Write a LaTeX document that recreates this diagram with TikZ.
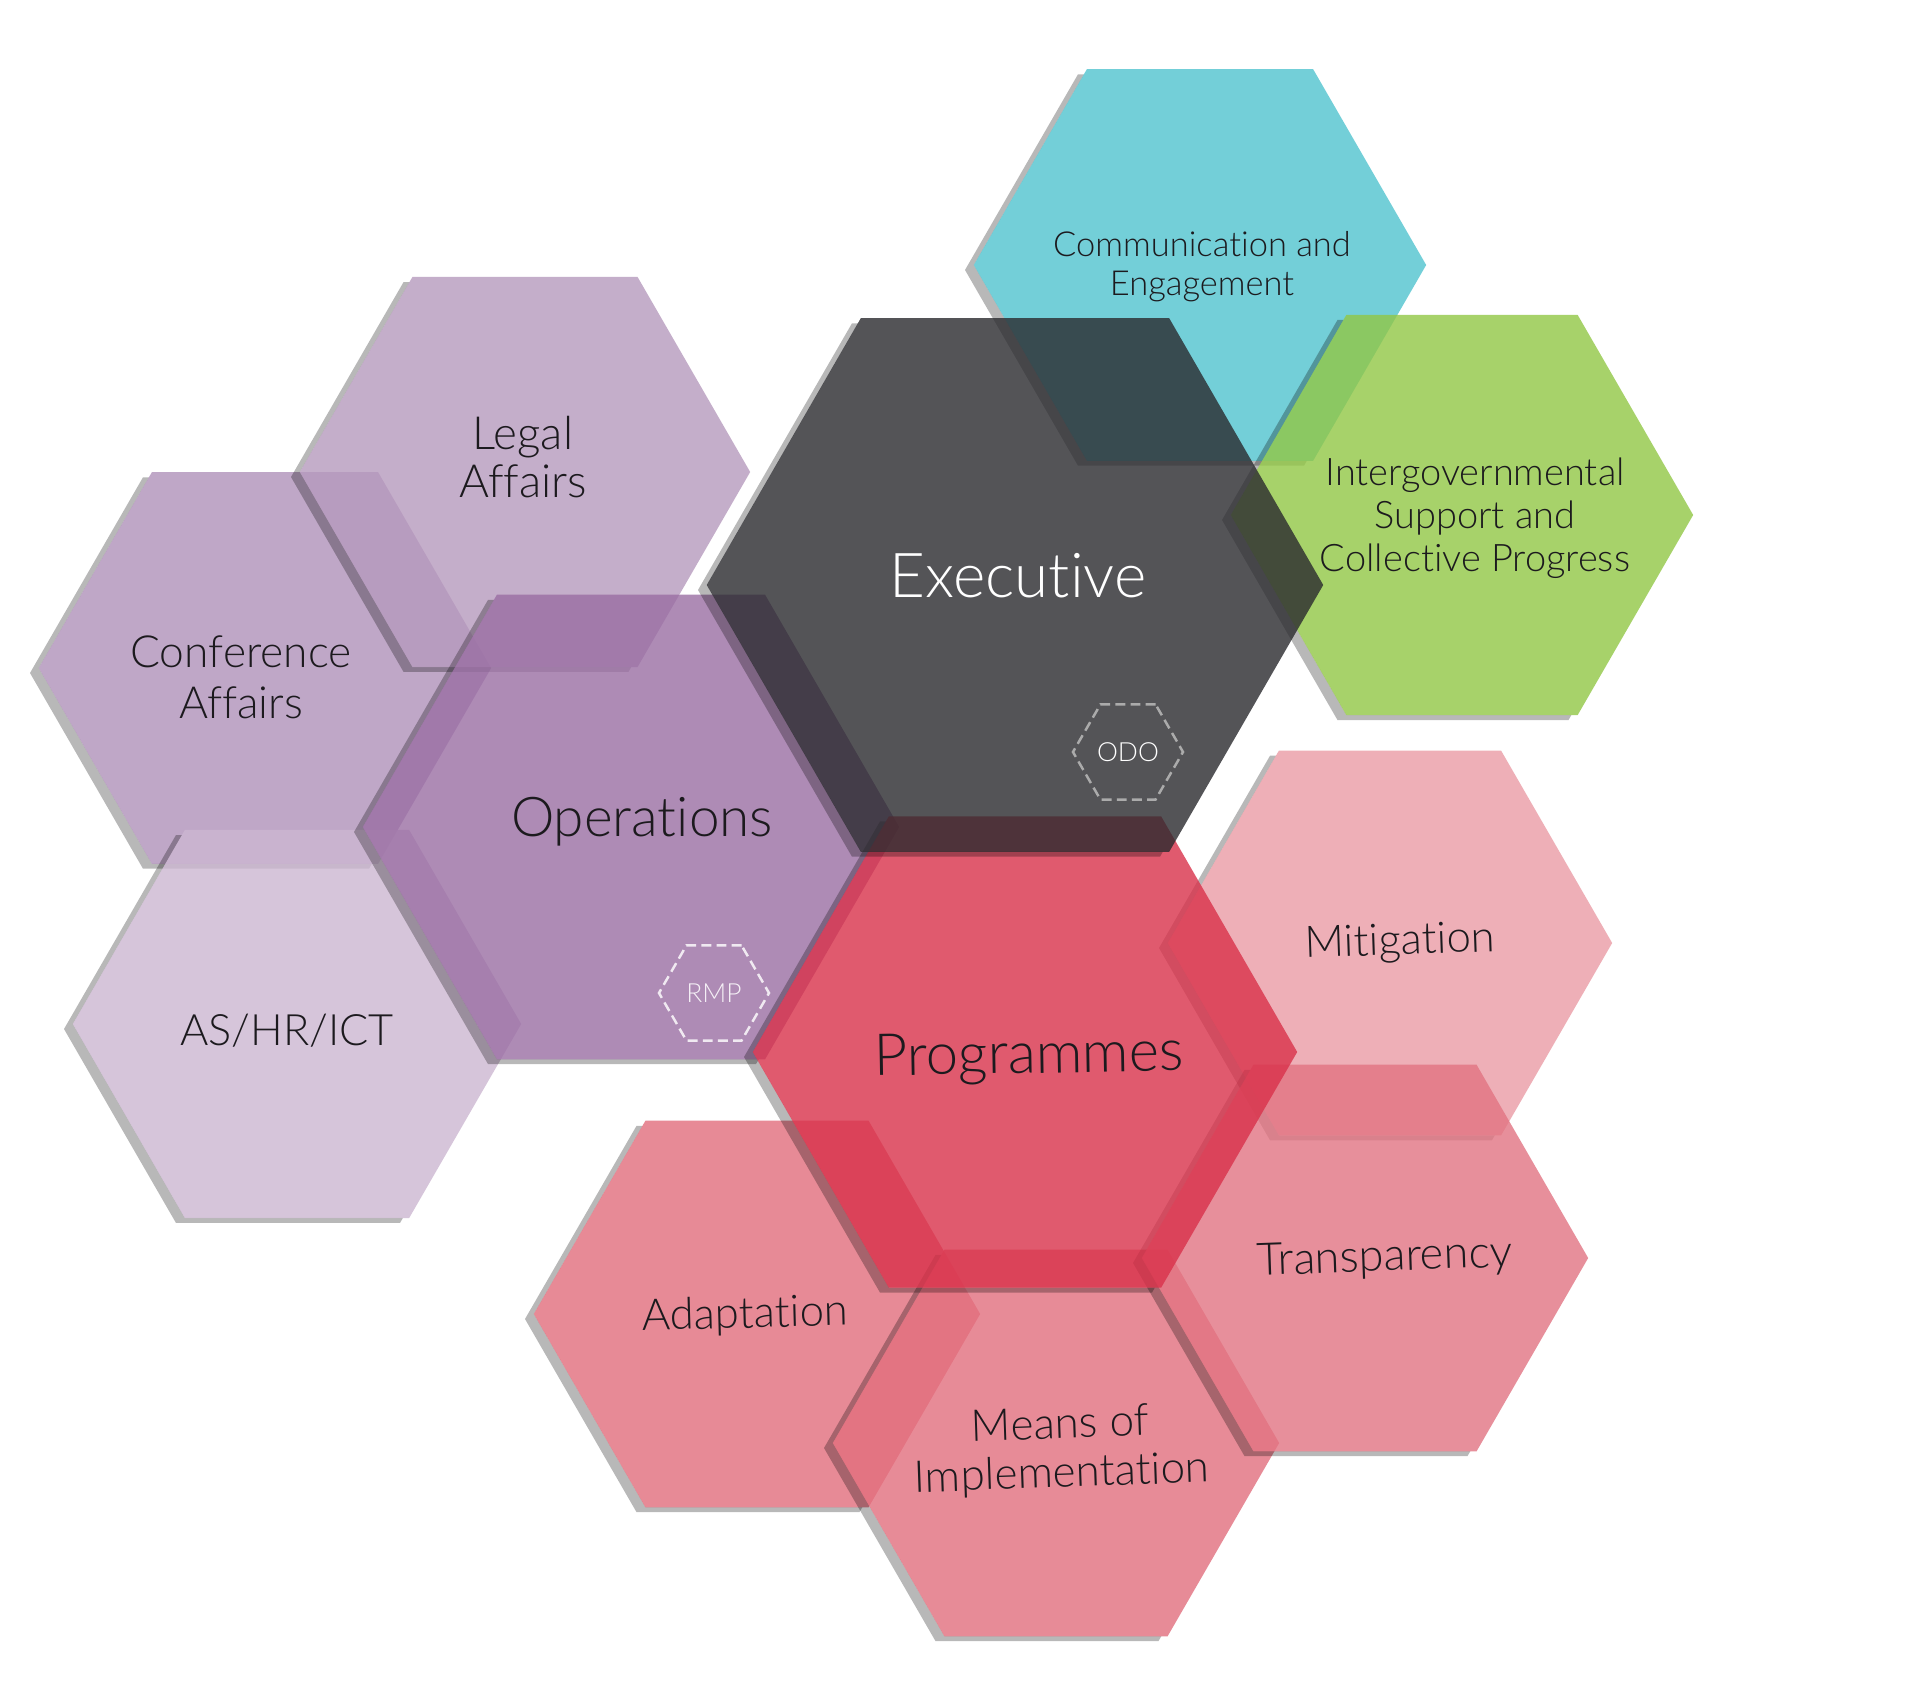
\documentclass[tikz,border=0pt]{standalone}
\usepackage{fontspec}
\setmainfont{Lato Light}[Ligatures=NoCommon]
\usetikzlibrary{shapes.geometric,calc}
\definecolor{confc}{RGB}{176,145,186}
\definecolor{legalc}{RGB}{182,154,189}
\definecolor{ashrc}{RGB}{204,183,209}
\definecolor{opsc}{RGB}{154,110,163}
\definecolor{commc}{RGB}{81,195,207}
\definecolor{igc}{RGB}{146,199,69}
\definecolor{execc}{RGB}{42,42,46}
\definecolor{mitc}{RGB}{234,156,165}
\definecolor{trc}{RGB}{226,116,130}
\definecolor{progc}{RGB}{217,49,74}
\definecolor{adc}{RGB}{226,109,124}
\definecolor{moic}{RGB}{226,111,126}
\definecolor{inkc}{RGB}{28,26,30}
\tikzstyle{hex}=[regular polygon,regular polygon sides=6,inner sep=0,outer sep=0,fill opacity=0.8]
\tikzstyle{hshade}=[fill=black,fill opacity=0.28]
\tikzstyle{lbl}=[align=center,text=inkc,inner sep=0]
\tikzstyle{subhex}=[regular polygon,regular polygon sides=6,minimum size=1.1cm,inner sep=0,
                 line width=0.7pt,dash pattern=on 2.8pt off 1.5pt,font=\fontsize{7.5}{8}\selectfont]
\newcommand{\hexpath}[2]{#1 +(0:#2) -- +(60:#2) -- +(120:#2) -- +(180:#2) -- +(240:#2) -- +(300:#2) -- cycle}
\newcommand{\hexa}[4]{\begin{scope}[even odd rule]
    \clip (-100,-100) -- (-100,1900) -- (2100,1900) -- (2100,-100) -- cycle \hexpath{#2}{#3};
    \fill[hshade] \hexpath{($#2+(-9,5)$)}{#3};
  \end{scope}
  \node[hex,fill=#4,minimum size=#3*0.02cm] (#1) at #2 {};}

\begin{document}
\begin{tikzpicture}[x=0.01cm,y=-0.01cm]
  \fill[white] (0,0) rectangle (1920,1700);
  \useasboundingbox (0,0) rectangle (1920,1700);

  \hexa{conf}{(265,668)}{226}{confc}
  \hexa{legal}{(525,472)}{225}{legalc}
  \hexa{ashr}{(297,1024)}{224}{ashrc}
  \hexa{ops}{(631,827)}{268}{opsc}
  \hexa{comm}{(1200,265)}{226}{commc}
  \hexa{ig}{(1462,515)}{231}{igc}
  \hexa{mitig}{(1390,943)}{222}{mitc}
  \hexa{adapt}{(757,1314)}{223}{adc}
  \hexa{moi}{(1056,1443)}{223}{moic}
  \hexa{transp}{(1365,1258)}{223}{trc}
  \hexa{prog}{(1025,1052)}{272}{progc}
  \hexa{exec}{(1015,585)}{308}{execc}

  \node[subhex,draw=black!33,text=white] (odo) at (1128,752) {ODO};
  \node[subhex,draw=white!85!opsc,text=white!90!opsc] (rmp) at (714,993) {RMP};

  \node[lbl,font=\fontsize{13}{13.6}\selectfont] (legal-t) at (523,457) {Legal\\Affairs};
  \node[lbl,font=\fontsize{12.6}{14.5}\selectfont] (conf-t) at (241,677) {Conference\\Affairs};
  \node[lbl,font=\fontsize{12.3}{13}\selectfont] (ashr-t) at (287,1031) {AS/HR/ICT};
  \node[lbl,font=\fontsize{15.6}{16}\selectfont] (ops-t) at (642,822) {Operations};
  \node[lbl,font=\fontsize{9.8}{11}\selectfont] (comm-t) at (1202,267) {Communication and\\Engagement};
  \node[lbl,font=\fontsize{10.8}{12.3}\selectfont] (ig-t) at (1475,518) {Intergovernmental\\Support and\\Collective Progress};
  \node[lbl,text=white,font=\fontsize{17.6}{18}\selectfont] (exec-t) at (1018,576) {Executive};
  \node[lbl,rotate=1,font=\fontsize{16.5}{17}\selectfont] (prog-t) at (1029,1058) {Programmes};
  \node[lbl,rotate=2,font=\fontsize{12.4}{13}\selectfont] (mitig-t) at (1400,943) {Mitigation};
  \node[lbl,rotate=2,font=\fontsize{12.8}{13}\selectfont] (transp-t) at (1385,1259) {Transparency};
  \node[lbl,rotate=1.5,font=\fontsize{12.4}{13}\selectfont] (adapt-t) at (745,1316) {Adaptation};
  \node[lbl,rotate=2,font=\fontsize{12.5}{13.9}\selectfont] (moi-t) at (1061,1451) {Means of\\Implementation};
\end{tikzpicture}
\end{document}
